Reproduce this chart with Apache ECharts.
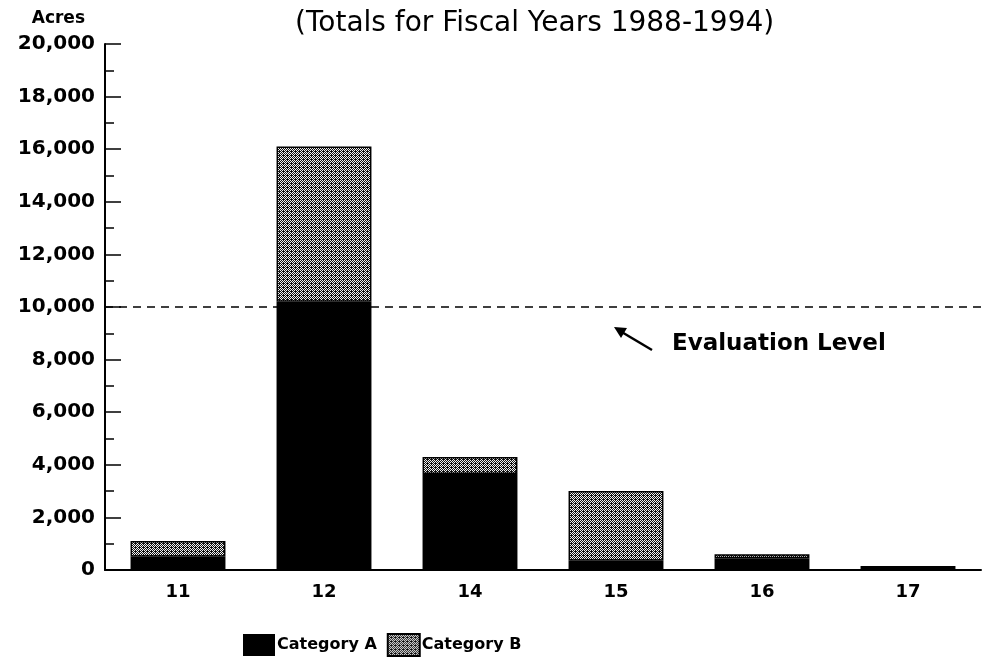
<!DOCTYPE html>
<html>
<head>
<meta charset="utf-8">
<script src="https://cdn.jsdelivr.net/npm/echarts@6/dist/echarts.min.js"></script>
<style>
  html, body { margin: 0; padding: 0; background: #fff; }
  #main { width: 1001px; height: 667px; }
</style>
</head>
<body>
<div id="main"></div>
<script>
// districts on the x axis
var districts = ['11', '12', '14', '15', '16', '17'];
// acres, category A (black) and category B (stippled)
var catA = [500, 10200, 3650, 350, 450, 80];
var catB = [600, 5900, 650, 2650, 150, 70];
var evalLevel = 10000;

// stipple pattern for category B
var cv = document.createElement('canvas');
cv.width = 4; cv.height = 4;
var cx = cv.getContext('2d');
cx.fillStyle = '#111';
cx.fillRect(0, 0, 4, 4);
cx.fillStyle = '#f2f2f2';
[[0, 0], [2, 0], [1, 1], [3, 1], [0, 2], [2, 2], [1, 3]].forEach(function (p) {
    cx.fillRect(p[0], p[1], 1, 1);
});
var stipple = { image: cv, repeat: 'repeat' };

var boldFont = 'DejaVu Sans';
function heavy(size) {
    return {
        fontFamily: boldFont,
        fontWeight: 'bold',
        fontSize: size,
        color: '#000'
    };
}

var myChart = echarts.init(document.getElementById('main'));
var option = {
    backgroundColor: '#fff',
    animation: false,
    title: {
        text: '(Totals for Fiscal Years 1988-1994)',
        left: 290,
        top: 5,
        textStyle: {
            fontFamily: 'DejaVu Sans',
            fontWeight: 'normal',
            fontSize: 28,
            color: '#000'
        }
    },
    legend: {
        left: 238,
        top: 628,
        itemWidth: 32,
        itemHeight: 22,
        itemGap: 10,
        icon: 'rect',
        textStyle: Object.assign(heavy(16), { padding: [0, 0, 0, -3] }),
        data: ['Category A', 'Category B']
    },
    grid: {
        left: 105,
        right: 20,
        top: 44,
        bottom: 97
    },
    xAxis: {
        type: 'category',
        data: districts,
        axisLine: { lineStyle: { color: '#000', width: 2 } },
        axisTick: { show: false },
        axisLabel: Object.assign(heavy(18), { margin: 13 })
    },
    yAxis: {
        type: 'value',
        min: 0,
        max: 20000,
        interval: 2000,
        name: 'Acres',
        nameLocation: 'end',
        nameGap: 17,
        nameTextStyle: Object.assign(heavy(17), { align: 'right', padding: [0, 20, 0, 0] }),
        axisLine: { show: true, lineStyle: { color: '#000', width: 2 } },
        axisTick: { show: true, inside: true, length: 16, lineStyle: { color: '#000', width: 1.5 } },
        minorTick: { show: true, splitNumber: 2, length: 9, lineStyle: { color: '#000', width: 1.5 } },
        splitLine: { show: false },
        axisLabel: Object.assign(heavy(20), {
            margin: 10,
            formatter: function (v) { return v.toLocaleString('en-US'); }
        })
    },
    series: [
        {
            name: 'Category A',
            type: 'bar',
            stack: 'total',
            barWidth: '65%',
            itemStyle: { color: '#000' },
            data: catA,
            markLine: {
                silent: true,
                symbol: 'none',
                label: { show: false },
                lineStyle: { color: '#000', width: 1.5, type: [8, 6] },
                data: [{ yAxis: evalLevel }]
            }
        },
        {
            name: 'Category B',
            type: 'bar',
            stack: 'total',
            barWidth: '65%',
            itemStyle: { color: stipple, borderColor: '#000', borderWidth: 1.5 },
            data: catB
        }
    ],
    graphic: [
        {
            type: 'text',
            left: 672,
            top: 333,
            style: {
                text: 'Evaluation Level',
                font: 'bold 23px "DejaVu Sans"',
                fill: '#000'
            }
        },
        {
            type: 'line',
            shape: { x1: 652, y1: 350, x2: 620, y2: 331 },
            style: { stroke: '#000', lineWidth: 2.5 }
        },
        {
            type: 'polygon',
            shape: { points: [[614, 327], [627, 328], [621, 338]] },
            style: { fill: '#000' }
        }
    ]
};
myChart.setOption(option);
</script>
</body>
</html>
